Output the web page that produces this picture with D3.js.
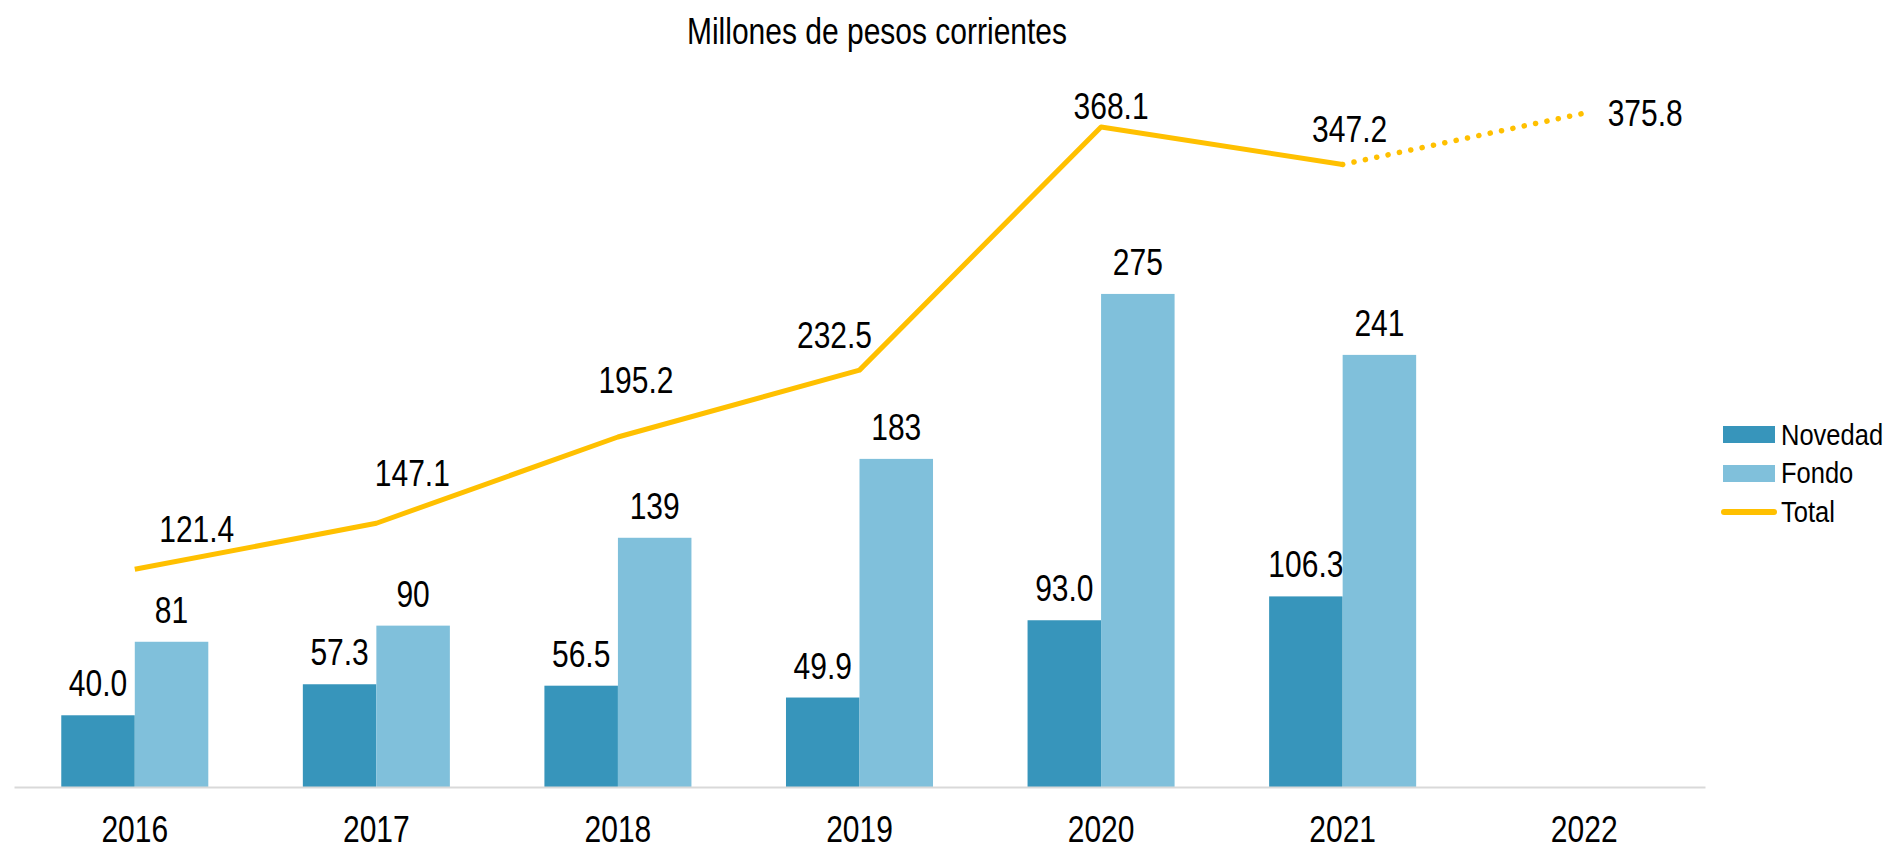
<!DOCTYPE html>
<meta charset="utf-8">
<style>

body {
  margin: 0;
  background: #fff;
}

text {
  font-family: "Liberation Sans", Arial, sans-serif;
  fill: #000;
}

.axis path {
  stroke: #d9d9d9;
  stroke-width: 2px;
}

.line {
  fill: none;
  stroke: #ffc000;
  stroke-width: 5px;
  stroke-linejoin: round;
}

.line--dotted {
  stroke-dasharray: 0.1 11.5;
  stroke-linecap: round;
  stroke-width: 5.5px;
}

</style>
<svg width="1888" height="850"></svg>
<script src="https://cdn.jsdelivr.net/npm/d3@7"></script>
<script>

var years = ["2016", "2017", "2018", "2019", "2020", "2021", "2022"];
var novedad = [40.0, 57.3, 56.5, 49.9, 93.0, 106.3];
var fondo = [81, 90, 139, 183, 275, 241];
var total = [121.4, 147.1, 195.2, 232.5, 368.1, 347.2, 375.8];
var novedadLabels = ["40.0", "57.3", "56.5", "49.9", "93.0", "106.3"];
var fondoLabels = ["81", "90", "139", "183", "275", "241"];
var totalLabels = ["121.4", "147.1", "195.2", "232.5", "368.1", "347.2", "375.8"];

// hand-placed nudges for the total labels (px from the point)
var totalNudgeX = [62, 36, 18, -25, 10, 7, 61],
    totalNudgeY = [-27, -37, -44, -22, -8, -22, 13];

var stretch = "scale(1,1.2)";

var svg = d3.select("svg"),
    baseY = 787;

var x = d3.scaleBand()
    .domain(years)
    .range([14, 1705]);

var xSub = d3.scaleBand()
    .domain(["Novedad", "Fondo"])
    .range([0, x.bandwidth()])
    .paddingOuter(0.643);

var y = d3.scaleLinear()
    .domain([0, 400])
    .range([baseY, baseY - 400 * 1.793]);

var color = {Novedad: "#3795bb", Fondo: "#80c0db"};

// title
svg.append("text")
    .attr("transform", "translate(877,44) " + stretch)
    .attr("text-anchor", "middle")
    .style("font-size", "30px")
    .text("Millones de pesos corrientes");

// bars
var barData = [];
novedad.forEach(function(v, i) {
  barData.push({year: years[i], key: "Novedad", value: v, label: novedadLabels[i]});
  barData.push({year: years[i], key: "Fondo", value: fondo[i], label: fondoLabels[i]});
});

var bars = svg.append("g");

bars.selectAll("rect")
  .data(barData)
  .enter().append("rect")
    .attr("x", function(d) { return x(d.year) + xSub(d.key); })
    .attr("y", function(d) { return y(d.value); })
    .attr("width", xSub.bandwidth())
    .attr("height", function(d) { return baseY - y(d.value); })
    .attr("fill", function(d) { return color[d.key]; });

// axis
var axis = svg.append("g")
    .attr("class", "axis")
    .attr("transform", "translate(0," + baseY + ")")
    .call(d3.axisBottom(x).tickSize(0).tickSizeOuter(0));

axis.selectAll("text")
    .attr("y", null)
    .attr("dy", null)
    .attr("transform", "translate(0,55) " + stretch)
    .style("font-size", "30px")
    .style("font-family", "'Liberation Sans', Arial, sans-serif")
    .attr("fill", "#000");

// total line
var pts = total.map(function(v, i) {
  return {x: x(years[i]) + x.bandwidth() / 2, y: y(v)};
});

var line = d3.line()
    .x(function(d) { return d.x; })
    .y(function(d) { return d.y; });

svg.append("path")
    .datum(pts.slice(0, 6))
    .attr("class", "line")
    .attr("d", line);

svg.append("path")
    .datum(pts.slice(5))
    .attr("class", "line line--dotted")
    .attr("d", line);

// bar labels
svg.append("g").selectAll("text")
  .data(barData)
  .enter().append("text")
    .attr("transform", function(d) {
      return "translate(" + (x(d.year) + xSub(d.key) + xSub.bandwidth() / 2) + "," + (y(d.value) - 19) + ") " + stretch;
    })
    .attr("text-anchor", "middle")
    .style("font-size", "30px")
    .text(function(d) { return d.label; });

// total labels
svg.append("g").selectAll("text")
  .data(pts)
  .enter().append("text")
    .attr("transform", function(d, i) {
      return "translate(" + (d.x + totalNudgeX[i]) + "," + (d.y + totalNudgeY[i]) + ") " + stretch;
    })
    .attr("text-anchor", "middle")
    .style("font-size", "30px")
    .text(function(d, i) { return totalLabels[i]; });

// legend
var legend = svg.append("g")
    .attr("transform", "translate(1723,0)");

["Novedad", "Fondo"].forEach(function(k, i) {
  legend.append("rect")
      .attr("x", 0)
      .attr("y", 426 + i * 39)
      .attr("width", 52)
      .attr("height", 17)
      .attr("fill", color[k]);
  legend.append("text")
      .attr("transform", "translate(58," + (445 + i * 38) + ") scale(1,1.17)")
      .style("font-size", "25.5px")
      .text(k);
});

legend.append("line")
    .attr("x1", 1)
    .attr("x2", 51)
    .attr("y1", 512)
    .attr("y2", 512)
    .attr("stroke", "#ffc000")
    .attr("stroke-width", 6)
    .attr("stroke-linecap", "round");

legend.append("text")
    .attr("transform", "translate(58,522) scale(1,1.17)")
    .style("font-size", "25.5px")
    .text("Total");

</script>
